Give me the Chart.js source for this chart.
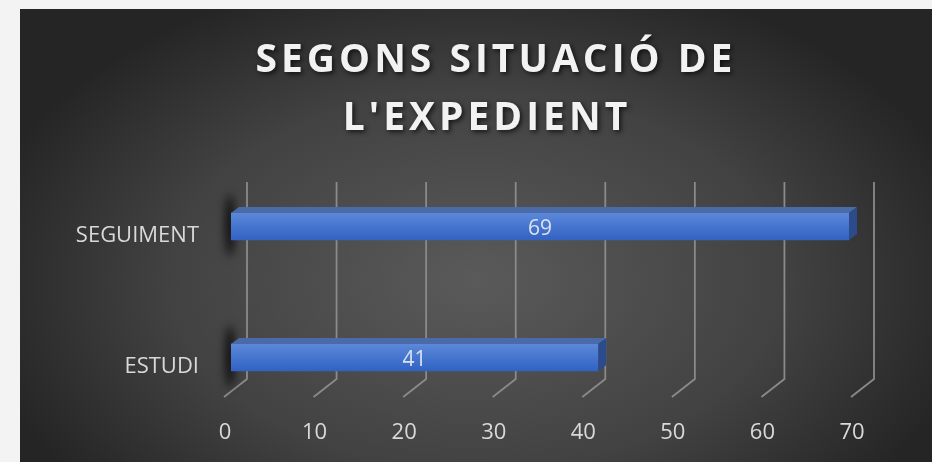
<!DOCTYPE html>
<html><head><meta charset="utf-8">
<script src="https://cdn.jsdelivr.net/npm/chart.js@4/dist/chart.umd.min.js"></script>
<style>html,body{margin:0;padding:0;background:#f3f3f3;overflow:hidden}canvas{display:block}</style>
</head><body>
<canvas id="c" width="932" height="462"></canvas>
<script>
const TITLE_LINES = ['SEGONS SITUACIÓ DE', "L'EXPEDIENT"];
const CATEGORIES = ['SEGUIMENT', 'ESTUDI'];
const VALUES = [69, 41];
const X_TICKS = [0, 10, 20, 30, 40, 50, 60, 70];

const FONT = '"Open Sans", "Noto Sans", sans-serif';
const DX = 8, DY = -6;           // bar depth
const GRID_BACK = 16, GRID_FRONT = -7;
const GRID_TOP = 182, GRID_BACK_BOTTOM = 379, GRID_FRONT_BOTTOM = 397;

const decor = {
  id: 'decor',
  beforeDraw(chart) {
    const ctx = chart.ctx, W = chart.width, H = chart.height;
    ctx.save();
    ctx.fillStyle = '#f3f3f3';
    ctx.fillRect(0, 0, W, H);
    const cx = 476, cy = 280, sy = 0.62;
    ctx.translate(cx, cy);
    ctx.scale(1, sy);
    const g = ctx.createRadialGradient(0, 0, 0, 0, 0, 510);
    g.addColorStop(0, '#5a5a5a');
    g.addColorStop(0.6, '#424242');
    g.addColorStop(1, '#252525');
    ctx.fillStyle = g;
    ctx.fillRect(20 - cx, (9 - cy) / sy, 912, 453 / sy);
    ctx.restore();

    // title
    ctx.save();
    ctx.font = 'bold 39px ' + FONT;
    try { ctx.letterSpacing = '4px'; } catch (e) {}
    ctx.textAlign = 'center';
    ctx.textBaseline = 'alphabetic';
    ctx.fillStyle = '#f2f2f2';
    ctx.shadowColor = 'rgba(0,0,0,0.7)';
    ctx.shadowBlur = 5;
    ctx.shadowOffsetX = 2;
    ctx.shadowOffsetY = 2;
    const centers = [496, 487];
    const baselines = [72, 130];
    TITLE_LINES.forEach((t, i) => ctx.fillText(t, centers[i], baselines[i]));
    ctx.restore();
  },
  beforeDatasetsDraw(chart) {
    const ctx = chart.ctx, xs = chart.scales.x;
    ctx.save();
    ctx.strokeStyle = '#8a8a8a';
    ctx.lineWidth = 1.8;
    X_TICKS.forEach(v => {
      const px = xs.getPixelForValue(v);
      ctx.beginPath();
      ctx.moveTo(px + GRID_BACK, GRID_TOP);
      ctx.lineTo(px + GRID_BACK, GRID_BACK_BOTTOM);
      ctx.lineTo(px + GRID_FRONT, GRID_FRONT_BOTTOM);
      ctx.stroke();
    });
    ctx.restore();
    // shadows at bar starts
    const meta = chart.getDatasetMeta(0);
    meta.data.forEach(el => {
      const p = el.getProps(['x', 'y', 'base', 'height'], true);
      ctx.save();
      ctx.filter = 'blur(5px)';
      ctx.fillStyle = 'rgba(0,0,0,0.95)';
      ctx.beginPath();
      ctx.ellipse(p.base - 1, p.y - 1, 4, p.height * 1.15, 0, 0, Math.PI * 2);
      ctx.fill();
      ctx.restore();
    });
  },
  afterDatasetsDraw(chart) {
    const ctx = chart.ctx;
    const meta = chart.getDatasetMeta(0);
    meta.data.forEach((el, i) => {
      const p = el.getProps(['x', 'y', 'base', 'height'], true);
      const top = p.y - p.height / 2, bot = p.y + p.height / 2;
      const x0 = p.base, x1 = p.x;
      ctx.save();
      // top face
      ctx.fillStyle = '#4a6aa8';
      ctx.beginPath();
      ctx.moveTo(x0, top);
      ctx.lineTo(x0 + DX, top + DY);
      ctx.lineTo(x1 + DX, top + DY);
      ctx.lineTo(x1, top);
      ctx.closePath();
      ctx.fill();
      // right face
      ctx.fillStyle = '#2c4b8a';
      ctx.beginPath();
      ctx.moveTo(x1, top);
      ctx.lineTo(x1 + DX, top + DY);
      ctx.lineTo(x1 + DX, bot + DY);
      ctx.lineTo(x1, bot);
      ctx.closePath();
      ctx.fill();
      // value label
      ctx.font = '21px ' + FONT;
      ctx.fillStyle = '#dbe2ef';
      ctx.textAlign = 'center';
      ctx.textBaseline = 'middle';
      ctx.fillText(String(VALUES[i]), (x0 + x1) / 2, p.y + 3);
      ctx.restore();
    });
  }
};

new Chart(document.getElementById('c'), {
  type: 'bar',
  data: {
    labels: CATEGORIES,
    datasets: [{
      data: VALUES,
      barThickness: 27,
      borderWidth: 0,
      backgroundColor: (c) => {
        const chart = c.chart;
        if (!chart.chartArea || !chart.scales.y) return '#4472c4';
        const y = chart.scales.y.getPixelForValue(c.dataIndex);
        const g = chart.ctx.createLinearGradient(0, y - 13.5, 0, y + 13.5);
        g.addColorStop(0, '#5b88d8');
        g.addColorStop(0.5, '#4675cf');
        g.addColorStop(1, '#3262c2');
        return g;
      }
    }]
  },
  options: {
    indexAxis: 'y',
    responsive: false,
    animation: false,
    devicePixelRatio: 1,
    layout: { padding: { top: 161, right: 74, left: 0, bottom: 0 } },
    plugins: { legend: { display: false }, title: { display: false }, tooltip: { enabled: false } },
    scales: {
      x: {
        min: 0, max: 70,
        afterBuildTicks: (s) => { s.ticks = X_TICKS.map(v => ({ value: v })); },
        afterFit: (s) => { s.height = 39; },
        grid: { display: false, drawTicks: false },
        border: { display: false },
        ticks: { color: '#d9d9d9', font: { family: FONT, size: 22 }, padding: -3, labelOffset: -6, maxRotation: 0 }
      },
      y: {
        afterFit: (s) => { s.width = 231; s.paddingTop = 0; s.paddingBottom = 0; },
        grid: { display: false, drawTicks: false },
        border: { display: false },
        ticks: { color: '#d9d9d9', font: { family: FONT, size: 22 }, padding: 32, labelOffset: 9 }
      }
    }
  },
  plugins: [decor]
});
</script>
</body></html>
